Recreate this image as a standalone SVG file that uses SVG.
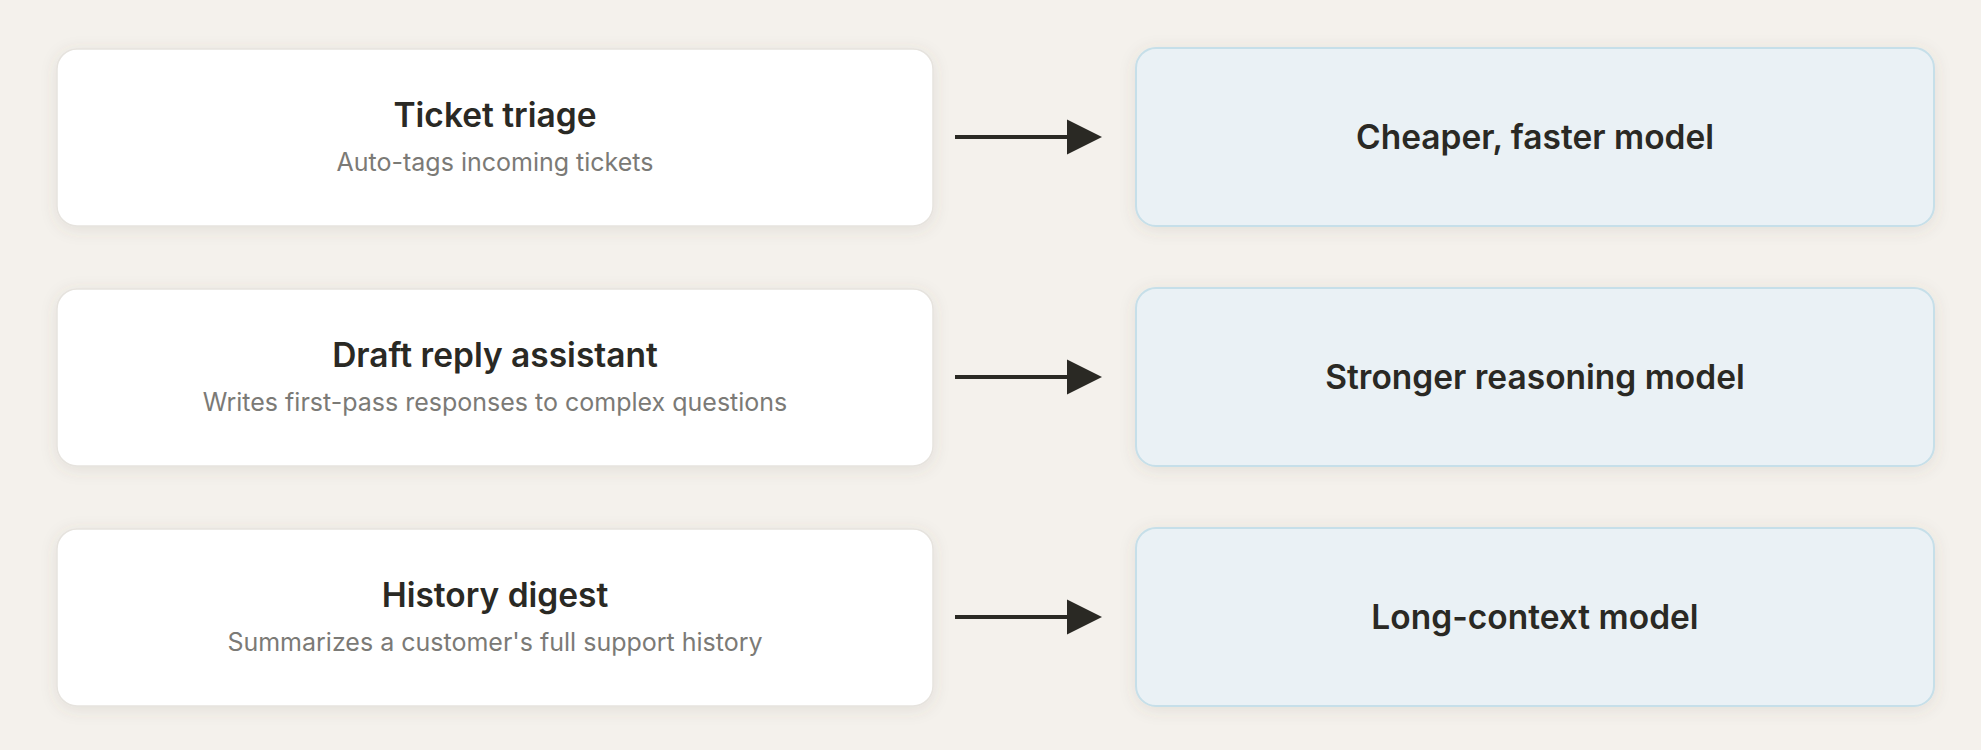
<svg xmlns="http://www.w3.org/2000/svg" width="1981" height="750" viewBox="0 0 1981 750">
<style>
.src{fill:#ffffff;stroke:#e6e3de;stroke-width:1.5}
.dst{fill:#eaf1f5;stroke:#c6dfe9;stroke-width:2}
.t{font-family:Inter,"Noto Sans",sans-serif;font-weight:600;font-size:33.5px;fill:#2a2924;text-anchor:middle}
.s{font-family:Inter,"Noto Sans",sans-serif;font-weight:400;font-size:25px;fill:#7b7a76;text-anchor:middle}
.c{stroke:#2a2924;stroke-width:4;fill:none}
</style>
<defs>
<filter id="sh" x="-10%" y="-30%" width="120%" height="160%">
<feDropShadow dx="0" dy="3" stdDeviation="8" flood-color="#6b5a40" flood-opacity="0.12"/>
</filter>
</defs>
<rect width="1981" height="750" fill="#f4f1ec"/>
<g id="n-ticket-triage">
<rect class="src" x="57" y="49" width="876" height="177" rx="20" filter="url(#sh)"/>
<text class="t" x="495" y="127">Ticket triage</text>
<text class="s" x="495" y="171">Auto-tags incoming tickets</text>
</g>
<g id="n-draft-reply">
<rect class="src" x="57" y="289" width="876" height="177" rx="20" filter="url(#sh)"/>
<text class="t" x="495" y="367">Draft reply assistant</text>
<text class="s" x="495" y="411">Writes first-pass responses to complex questions</text>
</g>
<g id="n-history-digest">
<rect class="src" x="57" y="529" width="876" height="177" rx="20" filter="url(#sh)"/>
<text class="t" x="495" y="607">History digest</text>
<text class="s" x="495" y="651">Summarizes a customer's full support history</text>
</g>
<g id="n-cheaper">
<rect class="dst" x="1136" y="48" width="798" height="178" rx="20" filter="url(#sh)"/>
<text class="t" x="1535" y="149">Cheaper, faster model</text>
</g>
<g id="n-stronger">
<rect class="dst" x="1136" y="288" width="798" height="178" rx="20" filter="url(#sh)"/>
<text class="t" x="1535" y="389">Stronger reasoning model</text>
</g>
<g id="n-long-context">
<rect class="dst" x="1136" y="528" width="798" height="178" rx="20" filter="url(#sh)"/>
<text class="t" x="1535" y="629">Long-context model</text>
</g>
<g id="connectors">
<line class="c" x1="955" y1="137" x2="1070" y2="137"/>
<path d="M1067,119.5 L1102,137 L1067,154.5 z" fill="#2a2924"/>
<line class="c" x1="955" y1="377" x2="1070" y2="377"/>
<path d="M1067,359.5 L1102,377 L1067,394.5 z" fill="#2a2924"/>
<line class="c" x1="955" y1="617" x2="1070" y2="617"/>
<path d="M1067,599.5 L1102,617 L1067,634.5 z" fill="#2a2924"/>
</g>
</svg>
